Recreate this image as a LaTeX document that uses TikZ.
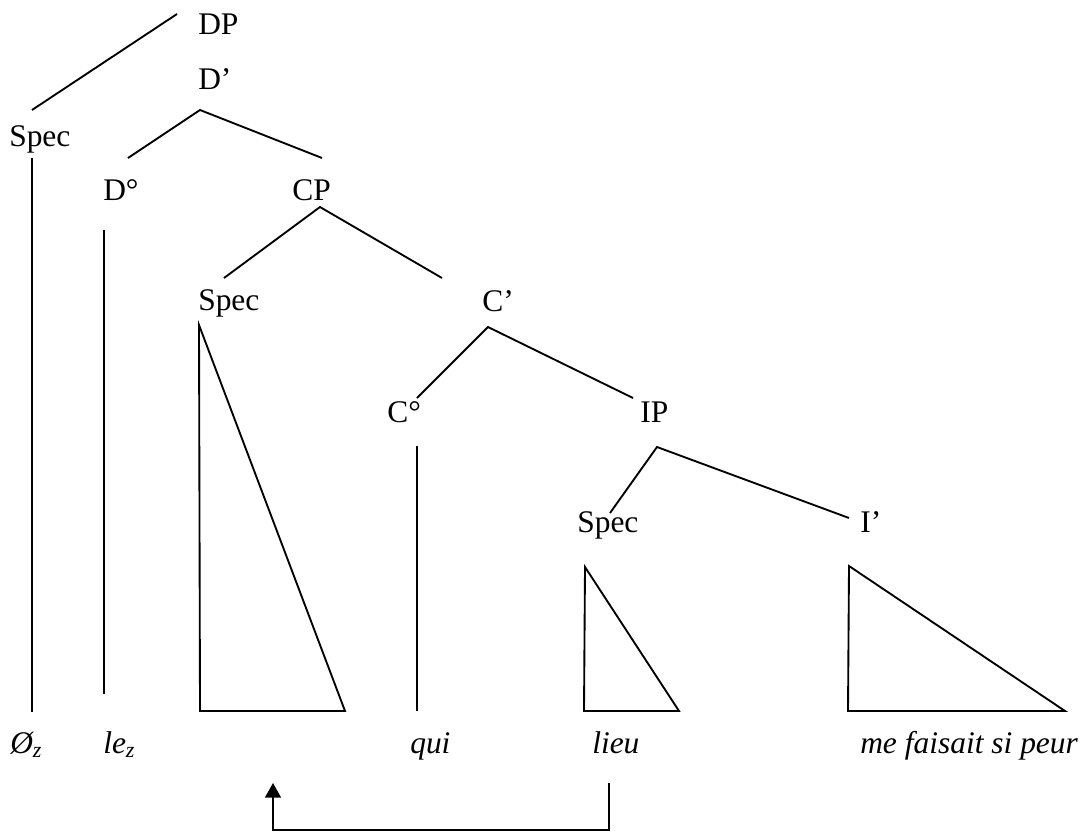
\documentclass[tikz,border=0pt]{standalone}
\usepackage{fontspec}
\setmainfont{Liberation Serif}
\usetikzlibrary{arrows.meta}
\newcommand{\treefont}{\fontsize{23.6}{28}\selectfont}
\tikzset{
  lbl/.style={inner sep=0pt, anchor=base west, font=\treefont},
  word/.style={lbl, font=\treefont\itshape},
  branch/.style={line width=1.4pt},
  move/.style={line width=1.4pt, -{Triangle[width=12pt,length=11pt]}}
}
\begin{document}
\begin{tikzpicture}[x=0.75pt, y=-0.75pt]
  \useasboundingbox (0,0) rectangle (1088,832);
  \node[lbl] (dp) at (198,34) {DP};
  \node[lbl] (dbar) at (198,89) {D'};
  \node[lbl] (specdp) at (9,146) {Spec};
  \node[lbl] (dhead) at (103,200) {D°};
  \node[lbl] (cp) at (292,200) {CP};
  \node[lbl] (speccp) at (198,310) {Spec};
  \node[lbl] (cbar) at (482,311) {C'};
  \node[lbl] (chead) at (387,422) {C°};
  \node[lbl] (ip) at (640,422) {IP};
  \node[lbl] (specip) at (577,532) {Spec};
  \node[lbl] (ibar) at (860,532) {I'};
  \node[word] (zero) at (10,753) {Ø\textsubscript{z}};
  \node[word] (le) at (103,753) {le\textsubscript{z}};
  \node[word] (qui) at (410,753) {qui};
  \node[word] (lieu) at (592,753) {lieu};
  \node[word] (peur) at (860,753) {me faisait si peur};
  \coordinate (trace) at (273,783);

  \draw[branch] ([shift={(-21,-20)}]dp.base west) -- ([shift={(23,-36)}]specdp.base west);
  \draw[branch] ([shift={(25,-42)}]dhead.base west) -- ([shift={(2,21)}]dbar.base west)
    -- ([shift={(30,-42)}]cp.base west);
  \draw[branch] ([shift={(23,12)}]specdp.base west) -- ([shift={(22,-41)}]zero.base west);
  \draw[branch] ([shift={(1,30)}]dhead.base west) -- ([shift={(1,-59)}]le.base west);
  \draw[branch] ([shift={(26,-32)}]speccp.base west) -- ([shift={(28,7)}]cp.base west)
    -- ([shift={(-40,-33)}]cbar.base west);
  \draw[branch] ([shift={(1,15)}]speccp.base west) -- ++(1,386) -- ++(145,0) -- cycle;
  \draw[branch] ([shift={(30,-24)}]chead.base west) -- ([shift={(6,16)}]cbar.base west)
    -- ([shift={(-7,-24)}]ip.base west);
  \draw[branch] ([shift={(30,24)}]chead.base west) -- ([shift={(7,-42)}]qui.base west);
  \draw[branch] ([shift={(33,-19)}]specip.base west) -- ([shift={(17,25)}]ip.base west)
    -- ([shift={(-11,-14)}]ibar.base west);
  \draw[branch] ([shift={(8,35)}]specip.base west) -- ++(-1,144) -- ++(95,0) -- cycle;
  \draw[branch] ([shift={(-11,34)}]ibar.base west) -- ++(-1,145) -- ++(217,0) -- cycle;

  \draw[move] ([shift={(17,30)}]lieu.base west) -- ++(0,47) -| (trace);
\end{tikzpicture}
\end{document}
